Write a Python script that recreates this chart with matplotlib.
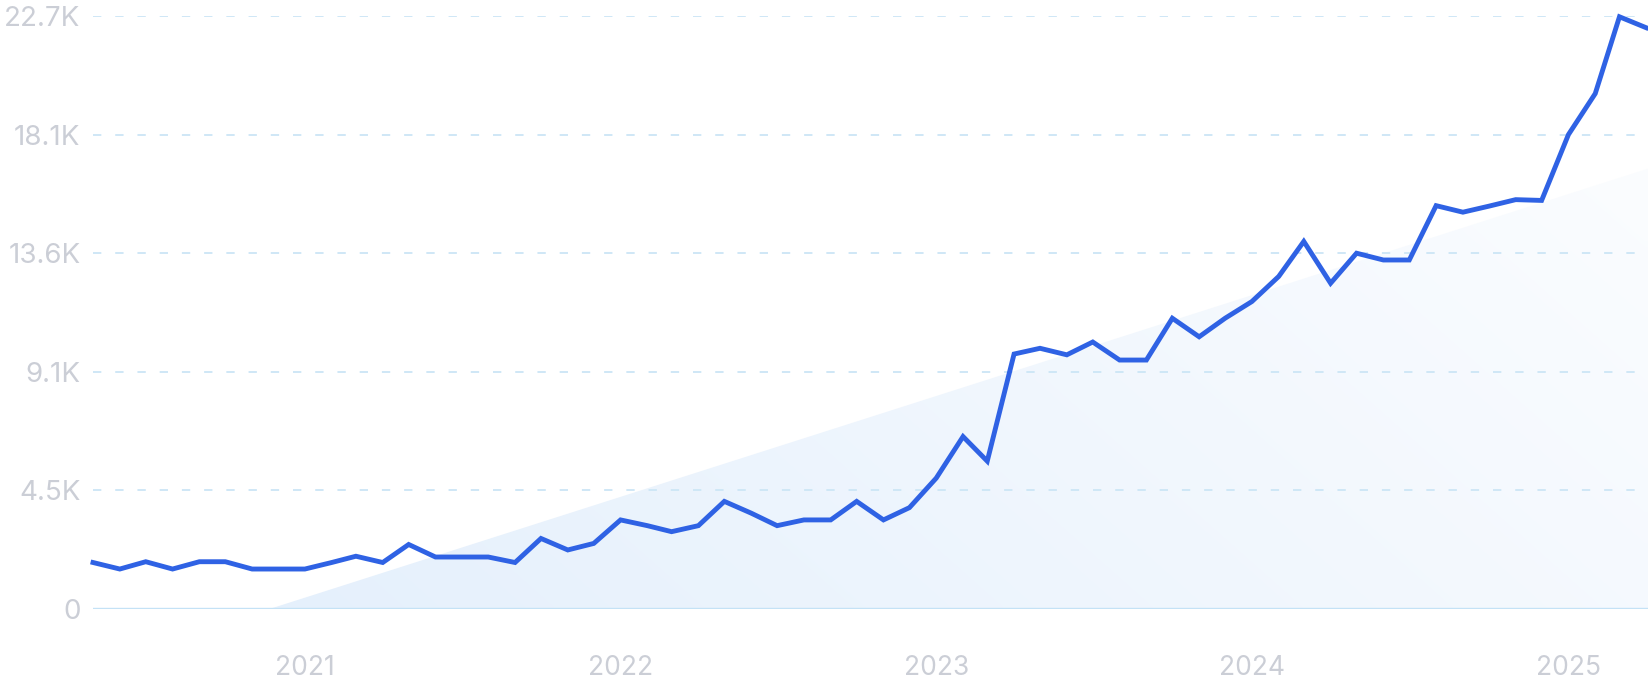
import numpy as np
import pandas as pd
import matplotlib
matplotlib.use('Agg')
import matplotlib.pyplot as plt
import matplotlib.dates as mdates
from matplotlib.patches import Polygon

# monthly values (thousands), May 2020 .. Apr 2025
months = pd.date_range('2020-05-01', '2025-04-01', freq='MS')
values = [
    1.78, 1.53, 1.81, 1.53, 1.81, 1.81, 1.53, 1.53,              # 2020
    1.53, 1.78, 2.02, 1.78, 2.47, 1.99, 1.99, 1.99, 1.78, 2.70, 2.26, 2.51,   # 2021
    3.41, 3.19, 2.96, 3.19, 4.12, 3.67, 3.19, 3.41, 3.41, 4.12, 3.41, 3.88,   # 2022
    5.01, 6.60, 5.66, 9.76, 9.98, 9.73, 10.22, 9.53, 9.53, 11.13, 10.42, 11.13,  # 2023
    11.77, 12.73, 14.07, 12.47, 13.62, 13.36, 13.36, 15.44, 15.19, 15.42, 15.67, 15.64,  # 2024
    18.16, 19.73, 22.67, 22.25,                                   # 2025
]
y_ticks = [0, 4.54, 9.08, 13.62, 18.16, 22.7]
y_labels = ['0', '4.5K', '9.1K', '13.6K', '18.1K', '22.7K']
years = [2021, 2022, 2023, 2024, 2025]

plt.rcParams['font.family'] = ['Inter', 'DejaVu Sans']
plt.rcParams['lines.scale_dashes'] = False

fig = plt.figure(figsize=(16.48, 7), dpi=100)
ax = fig.add_axes([93 / 1648, 91 / 700, 1 - 93 / 1648, 593 / 700])

x = mdates.date2num(months)
vals = np.array(values)

# linear trend of the series, shown as a shaded wedge above zero
idx = np.arange(len(vals))
slope, icpt = np.polyfit(idx, vals, 1)
x_right = mdates.date2num(pd.Timestamp('2025-04-03'))
per = (x[-1] - x[0]) / (len(x) - 1)
x0 = x[0] + (-icpt / slope) * per
y_right = icpt + slope * (x_right - x[0]) / per

poly = Polygon([(x0, 0), (x_right, y_right), (x_right, 0)], closed=True,
               facecolor='none', edgecolor='none')
ax.add_patch(poly)

# diagonal gradient light blue -> white
gx, gy = np.meshgrid(np.linspace(0, 1, 300), np.linspace(1, 0, 150))
t = np.clip(0.7 * gx + 0.3 * gy, 0, 1)
c0 = np.array([0.890, 0.937, 0.988])
c1 = np.array([0.992, 0.995, 1.0])
img = c0[None, None, :] * (1 - t[..., None]) + c1[None, None, :] * t[..., None]
im = ax.imshow(img, extent=[x[0], x_right, 0, 22.7], aspect='auto',
               interpolation='bilinear', zorder=1)
im.set_clip_path(poly)

# grid lines
for yt in y_ticks[1:]:
    ax.axhline(yt, color='#cfe7f6', lw=1.4, ls=(0, (6, 10)), zorder=3)
ax.axhline(0, color='#c4e2f6', lw=1.7, zorder=3)

ax.plot(x, vals, color='#2f62e4', lw=3.5, solid_joinstyle='miter',
        zorder=5, clip_on=False)

ax.set_xlim(x[0], x_right)
ax.set_ylim(0, 22.7)

ax.set_yticks(y_ticks)
ax.set_yticklabels(y_labels)
ax.set_xticks([mdates.date2num(pd.Timestamp(f'{yr}-01-01')) for yr in years])
ax.set_xticklabels([str(yr) for yr in years])

ax.tick_params(axis='y', length=0, pad=9, labelsize=20, labelcolor='#cbced6')
ax.tick_params(axis='x', length=0, pad=33, labelsize=19, labelcolor='#cbced6')

for s in ax.spines.values():
    s.set_visible(False)
ax.set_facecolor('none')

fig.savefig('out.png', dpi=100)
